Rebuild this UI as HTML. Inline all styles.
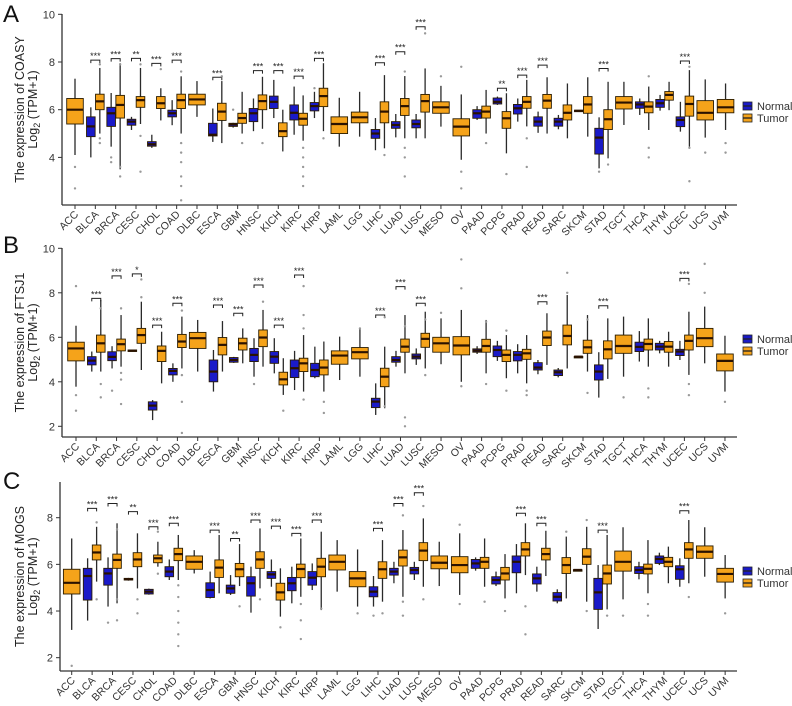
<!DOCTYPE html>
<html><head><meta charset="utf-8"><style>
html,body{margin:0;padding:0;background:#fff;}
svg{display:block;font-family:"Liberation Sans",Arial,sans-serif;}
</style></head><body>
<svg id="chart" width="792" height="706" viewBox="0 0 792 706" xmlns="http://www.w3.org/2000/svg"></svg>
<script>
const categories=["ACC","BLCA","BRCA","CESC","CHOL","COAD","DLBC","ESCA","GBM","HNSC","KICH","KIRC","KIRP","LAML","LGG","LIHC","LUAD","LUSC","MESO","OV","PAAD","PCPG","PRAD","READ","SARC","SKCM","STAD","TGCT","THCA","THYM","UCEC","UCS","UVM"];
// [low whisker, q1, median, q3, high whisker]
const aNormal=[null,[4.0,4.87,5.3,5.7,6.1],[4.45,5.3,5.85,6.1,6.7],[5.15,5.35,5.5,5.6,5.7],[4.4,4.47,4.55,4.66,4.95],[5.35,5.7,5.85,5.98,6.4],null,[4.65,4.9,4.95,5.43,6.05],[5.25,5.3,5.38,5.43,5.45],[5.1,5.5,5.85,6.05,6.47],[5.65,6.05,6.33,6.57,7.25],[4.95,5.57,5.87,6.2,6.97],[5.65,5.95,6.15,6.3,6.75],null,null,[4.3,4.8,5.0,5.17,5.65],[4.84,5.22,5.36,5.5,5.82],[4.8,5.24,5.4,5.57,5.82],null,null,[5.57,5.64,5.85,6.0,6.15],[6.2,6.24,6.33,6.49,6.55],[5.5,5.82,6.06,6.22,6.47],[5.03,5.31,5.5,5.7,5.92],[5.18,5.31,5.5,5.64,5.78],[5.92,5.92,5.95,5.98,5.98],[3.54,4.14,4.83,5.22,5.68],null,[5.78,6.06,6.22,6.33,6.47],[5.96,6.1,6.27,6.43,6.62],[5.08,5.29,5.57,5.7,6.33],null,null];
const aTumor=[[4.1,5.4,6.0,6.47,7.3],[5.0,6.0,6.35,6.65,7.75],[3.5,5.65,6.2,6.6,7.95],[5.4,6.1,6.4,6.55,7.75],[5.55,6.05,6.27,6.55,6.9],[5.0,6.05,6.4,6.65,7.4],[5.7,6.2,6.43,6.65,7.2],[4.6,5.55,5.92,6.27,7.2],[5.0,5.43,5.65,5.85,6.75],[5.2,6.0,6.36,6.62,7.38],[4.25,4.87,5.1,5.45,6.0],[4.7,5.35,5.62,5.85,6.6],[5.1,6.13,6.57,6.9,7.95],[4.45,5.0,5.4,5.7,6.5],[4.87,5.45,5.68,5.9,6.75],[4.38,5.45,5.92,6.33,7.45],[4.8,5.76,6.15,6.47,7.41],[4.8,5.9,6.36,6.64,7.73],[5.29,5.85,6.1,6.33,7.0],[3.9,4.9,5.29,5.62,6.64],[5.0,5.65,5.92,6.15,6.83],[4.17,5.22,5.64,5.92,6.69],[5.3,6.06,6.33,6.55,7.25],[5.0,6.06,6.38,6.64,7.36],[4.8,5.57,5.87,6.2,7.1],[4.87,5.85,6.22,6.55,7.36],[3.96,5.17,5.6,6.0,7.17],[5.36,6.03,6.3,6.55,7.17],[5.15,5.87,6.13,6.33,6.97],[5.98,6.4,6.62,6.76,7.17],[4.45,5.73,6.24,6.57,7.66],[4.83,5.57,5.87,6.38,7.27],[5.15,5.87,6.1,6.43,7.1]];
const aSig=["","***","***","**","***","***","","***","","***","***","***","***","","","***","***","***","","","","**","***","***","","","***","","","","***","",""];
const aSigY=[0,8.08,8.14,8.15,7.94,8.08,0,7.36,0,7.64,7.64,7.41,8.15,0,0,7.97,8.43,9.48,0,0,0,6.9,7.45,7.87,0,0,7.73,0,0,0,8.04,0,0];
const aOutliers=[[0,"T",3.6],[0,"T",2.7],[1,"T",4.8],[1,"T",4.6],[1,"T",7.9],[2,"N",4.0],[2,"N",3.8],[2,"T",3.2],[2,"T",3.6],[2,"T",7.9],[3,"T",3.4],[3,"T",4.9],[3,"T",7.9],[4,"T",7.7],[5,"T",4.6],[5,"T",4.2],[5,"T",3.8],[5,"T",3.2],[5,"T",2.8],[5,"T",2.2],[5,"T",7.6],[7,"T",7.4],[8,"T",4.6],[8,"N",6.0],[9,"T",4.6],[11,"T",4.4],[11,"T",4.0],[11,"T",3.6],[11,"T",3.2],[11,"T",2.8],[12,"T",4.8],[12,"N",6.9],[15,"T",4.1],[16,"T",4.4],[16,"T",4.0],[16,"T",3.2],[16,"T",7.6],[17,"T",9.2],[18,"T",7.4],[19,"T",3.4],[19,"T",2.7],[19,"T",7.8],[20,"T",4.6],[21,"T",3.3],[22,"T",4.8],[22,"T",3.6],[26,"T",3.7],[26,"N",3.4],[28,"T",4.4],[28,"T",4.0],[28,"T",7.4],[30,"T",4.4],[30,"T",3.0],[30,"T",7.8],[31,"T",4.2],[32,"T",4.6],[32,"T",4.2]];

const bNormal=[null,[4.46,4.76,4.95,5.13,5.36],[4.6,4.95,5.12,5.35,5.6],[5.36,5.37,5.4,5.43,5.43],[2.28,2.73,2.93,3.1,3.18],[4.0,4.31,4.49,4.6,4.83],null,[3.56,4.0,4.46,4.98,5.43],[4.85,4.88,4.98,5.09,5.12],[4.23,4.91,5.21,5.5,5.96],[4.38,4.83,5.13,5.36,5.96],[3.63,4.19,4.61,4.98,5.39],[4.16,4.23,4.53,4.83,5.58],null,null,[2.51,2.84,3.11,3.26,3.93],[4.68,4.88,4.98,5.13,5.39],[4.76,5.03,5.13,5.25,5.5],null,null,[5.25,5.33,5.4,5.48,5.6],[4.94,5.13,5.43,5.61,5.84],[4.38,4.94,5.21,5.36,5.69],[4.34,4.53,4.64,4.86,4.98],[4.2,4.28,4.43,4.53,4.62],[5.12,5.12,5.13,5.14,5.14],[3.29,4.08,4.46,4.76,5.33],null,[4.91,5.36,5.57,5.78,6.28],[5.28,5.43,5.58,5.73,5.84],[4.98,5.18,5.36,5.46,5.84],null,null];
const bTumor=[[3.78,4.94,5.5,5.78,6.52],[4.46,5.33,5.73,6.1,7.68],[4.68,5.39,5.69,5.92,7.0],[4.53,5.73,6.1,6.4,7.6],[3.93,4.91,5.39,5.61,6.25],[4.6,5.54,5.81,6.13,6.93],[4.46,5.5,5.96,6.22,6.78],[4.46,5.21,5.66,5.99,6.73],[4.83,5.43,5.73,5.96,6.4],[4.68,5.58,5.99,6.33,7.23],[3.41,3.86,4.11,4.43,5.06],[3.56,4.46,4.83,5.06,6.1],[3.56,4.31,4.64,4.98,5.81],[4.08,4.79,5.18,5.39,6.03],[4.23,5.03,5.33,5.54,6.43],[2.81,3.78,4.23,4.61,5.58],[4.38,5.33,5.58,5.92,7.0],[4.6,5.55,5.93,6.18,7.15],[4.79,5.33,5.73,6.0,6.85],[4.0,5.21,5.63,6.03,7.23],[4.38,5.33,5.61,5.91,6.78],[4.16,4.91,5.21,5.43,6.1],[3.93,5.01,5.28,5.46,6.1],[4.76,5.63,5.99,6.28,7.08],[4.6,5.66,6.06,6.55,7.9],[4.46,5.28,5.55,5.87,7.0],[4.13,5.03,5.46,5.84,6.85],[4.23,5.28,5.61,6.1,6.93],[4.68,5.43,5.7,5.92,6.85],[4.68,5.33,5.58,5.81,6.25],[4.31,5.43,5.84,6.1,7.15],[4.83,5.58,5.96,6.4,7.38],[3.56,4.49,4.94,5.25,6.07]];
const bSig=["","***","***","*","***","***","","***","***","***","***","***","","","","***","***","***","","","","","","***","","","***","","","","***","",""];
const bSigY=[0,7.75,8.76,8.85,6.55,7.53,0,7.45,7.08,8.35,6.55,8.8,0,0,0,7.0,8.28,7.53,0,0,0,0,0,7.6,0,0,7.42,0,0,0,8.65,0,0];
const bOutliers=[[0,"T",8.3],[0,"T",2.7],[0,"T",3.4],[1,"T",3.3],[1,"T",3.9],[1,"T",7.3],[2,"T",3.0],[2,"T",4.4],[2,"T",4.1],[2,"T",7.3],[2,"N",3.6],[3,"T",8.6],[3,"T",7.8],[5,"T",1.7],[5,"T",3.1],[5,"T",4.3],[5,"T",7.2],[9,"T",7.6],[9,"N",3.9],[10,"T",2.7],[11,"T",8.3],[11,"T",7.0],[11,"T",6.4],[11,"T",3.2],[12,"T",2.6],[12,"T",3.1],[14,"T",6.4],[15,"T",6.9],[15,"T",2.9],[16,"T",2.0],[16,"T",2.4],[16,"T",6.5],[17,"T",6.8],[17,"T",4.3],[18,"T",7.1],[19,"T",9.5],[19,"T",8.2],[19,"T",3.8],[20,"T",6.7],[20,"T",3.9],[21,"T",6.3],[21,"T",3.6],[22,"T",3.4],[22,"T",3.6],[24,"T",8.9],[24,"T",8.0],[25,"T",6.8],[25,"T",3.5],[27,"T",3.3],[28,"T",3.3],[28,"T",3.7],[30,"T",8.4],[30,"T",3.9],[30,"T",3.4],[31,"T",9.3],[31,"T",8.0],[32,"T",3.1]];

const cNormal=[null,[3.59,4.47,5.5,5.83,6.26],[4.19,5.11,5.61,5.83,6.3],[5.3,5.33,5.36,5.4,5.42],[4.7,4.73,4.83,4.93,4.96],[5.33,5.47,5.69,5.9,6.21],null,[4.54,4.58,4.9,5.21,5.69],[4.69,4.76,4.97,5.11,5.54],[3.93,4.64,5.19,5.47,5.9],[5.04,5.4,5.57,5.69,6.21],[4.33,4.87,5.19,5.44,5.9],[4.9,5.11,5.43,5.69,6.04],null,null,[4.19,4.61,4.83,5.04,5.5],[5.19,5.54,5.69,5.83,6.11],[5.33,5.59,5.76,5.87,6.11],null,null,[5.73,5.83,6.04,6.21,6.3],[5.07,5.16,5.33,5.47,5.69],[4.76,5.64,6.11,6.36,6.87],[4.83,5.16,5.4,5.59,5.9],[4.33,4.43,4.61,4.79,4.93],[5.74,5.75,5.76,5.77,5.78],[3.23,4.07,4.8,5.4,5.97],null,[5.36,5.61,5.76,5.9,6.11],[5.97,6.04,6.23,6.36,6.5],[5.04,5.36,5.79,5.94,6.26],null,null];
const cTumor=[[3.19,4.73,5.21,5.79,7.11],[5.26,6.19,6.51,6.83,7.61],[4.33,5.83,6.19,6.44,7.76],[4.97,5.9,6.21,6.5,7.33],[5.9,6.07,6.26,6.4,6.97],[5.33,6.16,6.44,6.69,7.26],[5.61,5.79,6.11,6.36,6.61],[4.76,5.44,5.86,6.19,7.26],[5.07,5.47,5.79,6.04,6.87],[4.97,5.83,6.21,6.54,7.54],[3.76,4.47,4.8,5.19,5.83],[4.61,5.43,5.8,6.01,7.11],[4.04,5.47,5.9,6.26,7.4],[4.83,5.76,6.11,6.4,7.04],[4.19,5.04,5.4,5.69,6.64],[4.4,5.4,5.79,6.11,7.04],[4.61,5.93,6.3,6.61,7.47],[5.04,6.16,6.59,6.93,7.97],[5.07,5.81,6.07,6.36,6.97],[4.69,5.64,5.97,6.33,7.33],[5.04,5.83,6.11,6.3,7.11],[4.54,5.33,5.61,5.87,6.44],[5.54,6.36,6.64,6.93,7.76],[5.5,6.19,6.44,6.69,7.44],[4.54,5.61,5.97,6.29,7.19],[4.4,6.0,6.33,6.67,7.61],[4.07,5.16,5.61,5.97,7.26],[4.5,5.71,6.11,6.57,7.59],[4.76,5.59,5.81,6.01,7.04],[5.19,5.9,6.11,6.3,6.76],[5.19,6.26,6.64,6.93,7.9],[5.47,6.26,6.54,6.79,7.59],[4.54,5.24,5.59,5.83,6.4]];
const cSig=["","***","***","**","***","***","","***","**","***","***","***","***","","","***","***","***","","","","","***","***","","","***","","","","***","",""];
const cSigY=[0,8.4,8.61,8.26,7.61,7.76,0,7.47,7.11,7.9,7.64,7.33,7.9,0,0,7.54,8.61,9.07,0,0,0,0,8.19,7.76,0,0,7.47,0,0,0,8.3,0,0];
const cOutliers=[[0,"T",1.65],[1,"T",4.5],[1,"T",7.8],[2,"T",3.6],[2,"T",4.5],[2,"T",7.5],[2,"N",3.5],[3,"T",3.9],[3,"T",4.5],[4,"T",5.6],[4,"T",7.4],[5,"T",2.5],[5,"T",3.0],[5,"T",3.5],[5,"T",4.0],[5,"T",4.6],[5,"T",5.1],[8,"T",4.2],[9,"T",4.5],[10,"T",3.3],[11,"T",2.8],[11,"T",3.6],[11,"T",4.3],[12,"T",4.1],[14,"T",3.9],[15,"T",3.9],[15,"N",3.8],[16,"T",3.8],[16,"T",4.4],[16,"T",8.1],[17,"T",8.5],[17,"T",4.5],[19,"T",4.3],[19,"T",7.7],[20,"T",4.4],[21,"T",4.0],[22,"T",3.0],[22,"T",4.2],[24,"T",7.4],[25,"T",7.9],[25,"T",4.0],[26,"T",3.8],[27,"T",3.8],[28,"T",3.8],[28,"T",4.3],[30,"T",4.6],[32,"T",3.9]];

const NS="http://www.w3.org/2000/svg";
const svg=document.getElementById("chart");
function mk(tag,attrs,parent){const e=document.createElementNS(NS,tag);for(const k in attrs)e.setAttribute(k,attrs[k]);(parent||svg).appendChild(e);return e;}

function drawPanel(p){
  const g=mk("g",{});
  
  
  const y=v=>p.yTop+(p.vTop-v)*p.pxPerUnit;
  const x=i=>p.x0+i*p.step;
  const ya=mk("line",{x1:p.axisX,x2:p.axisX,y1:p.axisTopY,y2:p.axisBotY,stroke:"#333","stroke-width":1.3},g);
  
  
  const xa=mk("line",{x1:p.axisX,x2:p.axisRight,y1:p.axisBotY,y2:p.axisBotY,stroke:"#333","stroke-width":1.3},g);
  
  
  p.ticks.forEach(t=>{
    mk("line",{x1:p.axisX-4,x2:p.axisX,y1:y(t),y2:y(t),stroke:"#333","stroke-width":1},g);
    const tl=mk("text",{x:p.axisX-7,y:y(t)+4,"text-anchor":"end","font-size":11,fill:"#333"},g);
    tl.textContent=t;
    
    
  });
  const cy=(p.axisTopY+p.axisBotY)/2;
  const t1=mk("text",{x:0,y:0,"text-anchor":"middle","font-size":12.5,fill:"#222",transform:`translate(24,${cy}) rotate(-90)`},g);
  t1.textContent="The expression of "+p.gene;
  
  
  const t2=mk("text",{x:0,y:0,"text-anchor":"middle","font-size":12.5,fill:"#222",transform:`translate(37,${cy}) rotate(-90)`},g);
  t2.innerHTML='Log<tspan font-size="9" dy="3">2</tspan><tspan dy="-3"> (TPM+1)</tspan>';
  
  
  const L=mk("text",{x:3,y:p.letterY,"font-size":24,fill:"#111"},g);
  L.textContent=p.letter;
  
  
  function box(cx,hw,d,fill,name){
    const bg=mk("g",{},g);
    
    
    mk("line",{x1:cx,x2:cx,y1:y(d[4]),y2:y(d[0]),stroke:"#2a2a2a","stroke-width":1.3},bg);
    mk("rect",{x:cx-hw,y:y(d[3]),width:hw*2,height:Math.max(1.5,y(d[1])-y(d[3])),fill:fill,stroke:"#2a1c00","stroke-width":0.9},bg);
    mk("line",{x1:cx-hw,x2:cx+hw,y1:y(d[2]),y2:y(d[2]),stroke:"#2a1200","stroke-width":2.2},bg);
  }
  categories.forEach((c,i)=>{
    const cx=x(i);
    const n=p.normal[i], t=p.tumor[i];
    if(n){
      box(cx-4.5,4.3,n,"#1a1ac8","box-normal-"+c.toLowerCase());
      box(cx+4.5,4.3,t,"#f5a31a","box-tumor-"+c.toLowerCase());
    } else {
      box(cx,8.3,t,"#f5a31a","box-tumor-"+c.toLowerCase());
    }
    mk("line",{x1:cx,x2:cx,y1:p.axisBotY,y2:p.axisBotY+4,stroke:"#333","stroke-width":1},g);
    const lb=mk("text",{x:0,y:0,"text-anchor":"end","font-size":10.5,fill:"#333",transform:`translate(${cx+4},${p.axisBotY+10}) rotate(-45)`},g);
    lb.textContent=c;
    
    
    if(p.sig[i]){
      const by=y(p.sigY[i]);
      const sg=mk("g",{},g);
      
      
      mk("path",{d:`M${cx-4.5},${by+3}V${by}H${cx+4.5}V${by+3}`,fill:"none",stroke:"#222","stroke-width":1},sg);
      const st=mk("text",{x:cx,y:by-1,"text-anchor":"middle","font-size":9,fill:"#222"},sg);
      st.textContent=p.sig[i];
    }
  });
  p.outliers.forEach(o=>{
    const cx=x(o[0])+(p.normal[o[0]]?(o[1]==="N"?-4.5:4.5):0);
    const d=mk("circle",{cx:cx,cy:y(o[2]),r:1.2,fill:"#999"},g);
    
    
  });
  const lg=mk("g",{},g);
  
  
  [["Normal","#1a1ac8"],["Tumor","#f5a31a"]].forEach((e,k)=>{
    const ly=p.legendY+k*12;
    mk("rect",{x:743,y:ly,width:9,height:8,fill:e[1],stroke:"#222","stroke-width":0.8},lg);
    mk("line",{x1:743,x2:752,y1:ly+4,y2:ly+4,stroke:"#222","stroke-width":1.3},lg);
    const tx=mk("text",{x:757,y:ly+8,"font-size":11,fill:"#333"},lg);
    tx.textContent=e[0];
    
    
  });
}
drawPanel({name:"panel-a-coasy",letter:"A",letterY:22,gene:"COASY",normal:aNormal,tumor:aTumor,sig:aSig,sigY:aSigY,outliers:aOutliers,
  ticks:[4,6,8,10],vTop:10,yTop:14.3,pxPerUnit:23.85,axisX:62,axisTopY:14,axisBotY:205,axisRight:737,x0:75,step:20.33,legendY:102});
drawPanel({name:"panel-b-ftsj1",letter:"B",letterY:253,gene:"FTSJ1",normal:bNormal,tumor:bTumor,sig:bSig,sigY:bSigY,outliers:bOutliers,
  ticks:[2,4,6,8,10],vTop:10,yTop:248.3,pxPerUnit:22.25,axisX:62,axisTopY:248,axisBotY:437,axisRight:737,x0:76,step:20.28,legendY:335});
drawPanel({name:"panel-c-mogs",letter:"C",letterY:489,gene:"MOGS",normal:cNormal,tumor:cTumor,sig:cSig,sigY:cSigY,outliers:cOutliers,
  ticks:[2,4,6,8],vTop:8,yTop:517.7,pxPerUnit:23.33,axisX:60,axisTopY:482,axisBotY:671,axisRight:737,x0:71.7,step:20.42,legendY:567});
</script>
</body></html>
